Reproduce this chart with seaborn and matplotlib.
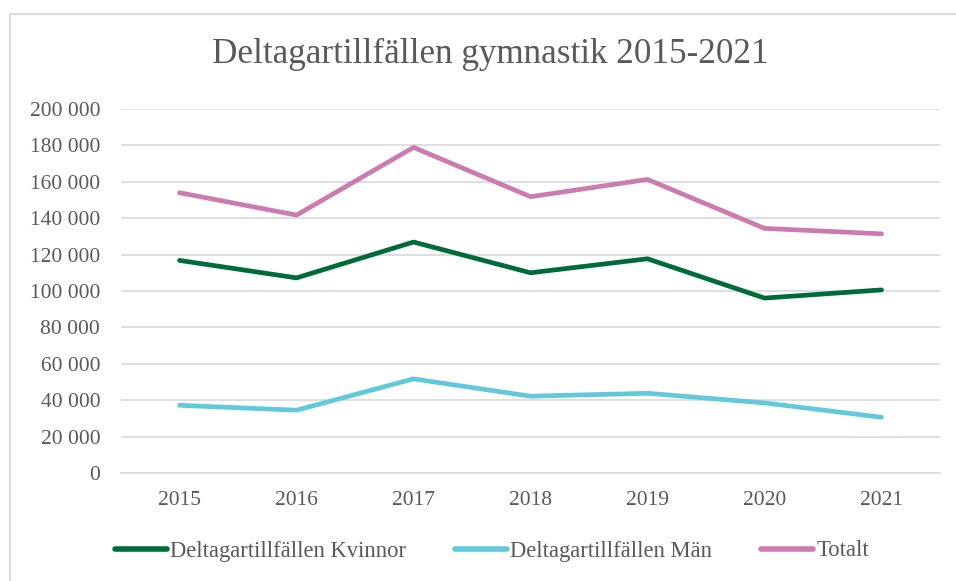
import matplotlib
matplotlib.use("Agg")
import matplotlib.pyplot as plt
import matplotlib.ticker as mticker
from matplotlib.patches import Rectangle
import pandas as pd
import seaborn as sns

# data
years = ["2015", "2016", "2017", "2018", "2019", "2020", "2021"]
kvinnor = [116800, 107200, 126900, 110000, 117700, 96100, 100600]
man = [37200, 34500, 51700, 42200, 43800, 38500, 30600]
totalt = [154000, 141700, 178900, 151800, 161300, 134400, 131400]

series_names = ["Deltagartillfällen Kvinnor", "Deltagartillfällen Män", "Totalt"]
series_colors = ["#006B3A", "#62C9DA", "#CC7BB0"]

sns.set_style("white")
plt.rcParams['font.family'] = ['Liberation Serif', 'DejaVu Serif']
text_color = "#595959"
grid_color = "#D9D9D9"

df = pd.DataFrame({
    "year": years * 3,
    "value": kvinnor + man + totalt,
    "series": [series_names[0]] * 7 + [series_names[1]] * 7 + [series_names[2]] * 7,
})

fig = plt.figure(figsize=(9.56, 5.81), dpi=100)
ax = fig.add_axes([0.1266, 0.1859, 0.9833 - 0.1266, 0.8124 - 0.1859])

# thin grey frame around the chart area (right/bottom edges are cut off)
fig.patches.append(Rectangle((10 / 956, -0.1), 1.2, 1 - 14 / 581 + 0.1,
                             transform=fig.transFigure, fill=False,
                             edgecolor=grid_color, linewidth=1.5))

sns.lineplot(data=df, x="year", y="value", hue="series", palette=series_colors,
             hue_order=series_names, linewidth=3.4, sort=False, ax=ax,
             solid_capstyle="round", legend=False)

ax.set_xlim(-0.5, 6.5)
ax.set_ylim(0, 200000)
ax.yaxis.set_major_locator(mticker.MultipleLocator(20000))
ax.yaxis.set_major_formatter(mticker.FuncFormatter(lambda v, p: f"{v:,.0f}".replace(",", " ")))
ax.grid(True, axis='y', color=grid_color, linewidth=1.2)
ax.set_axisbelow(True)
for side in ["left", "right", "top"]:
    ax.spines[side].set_visible(False)
ax.spines["bottom"].set_color(grid_color)
ax.spines["bottom"].set_linewidth(1.2)
ax.tick_params(axis='both', length=0, labelsize=15.5, labelcolor=text_color)
ax.tick_params(axis='y', pad=15)
ax.tick_params(axis='x', pad=13)
ax.set_xlabel("")
ax.set_ylabel("")

fig.text(490 / 956, 1 - 54 / 581, "Deltagartillfällen gymnastik 2015-2021",
         ha='center', va='center', fontsize=25.3, color=text_color)

handles = [plt.Line2D([], [], color=c, linewidth=4, solid_capstyle="round") for c in series_colors]
leg = fig.legend(handles, series_names, loc='center', bbox_to_anchor=(492 / 956, 1 - 551 / 581),
                 ncol=3, frameon=False, fontsize=16.3, handlelength=2.3, handletextpad=0.15,
                 columnspacing=2.15)
for t in leg.get_texts():
    t.set_color(text_color)

plt.savefig("out.png", dpi=100)
plt.close()
